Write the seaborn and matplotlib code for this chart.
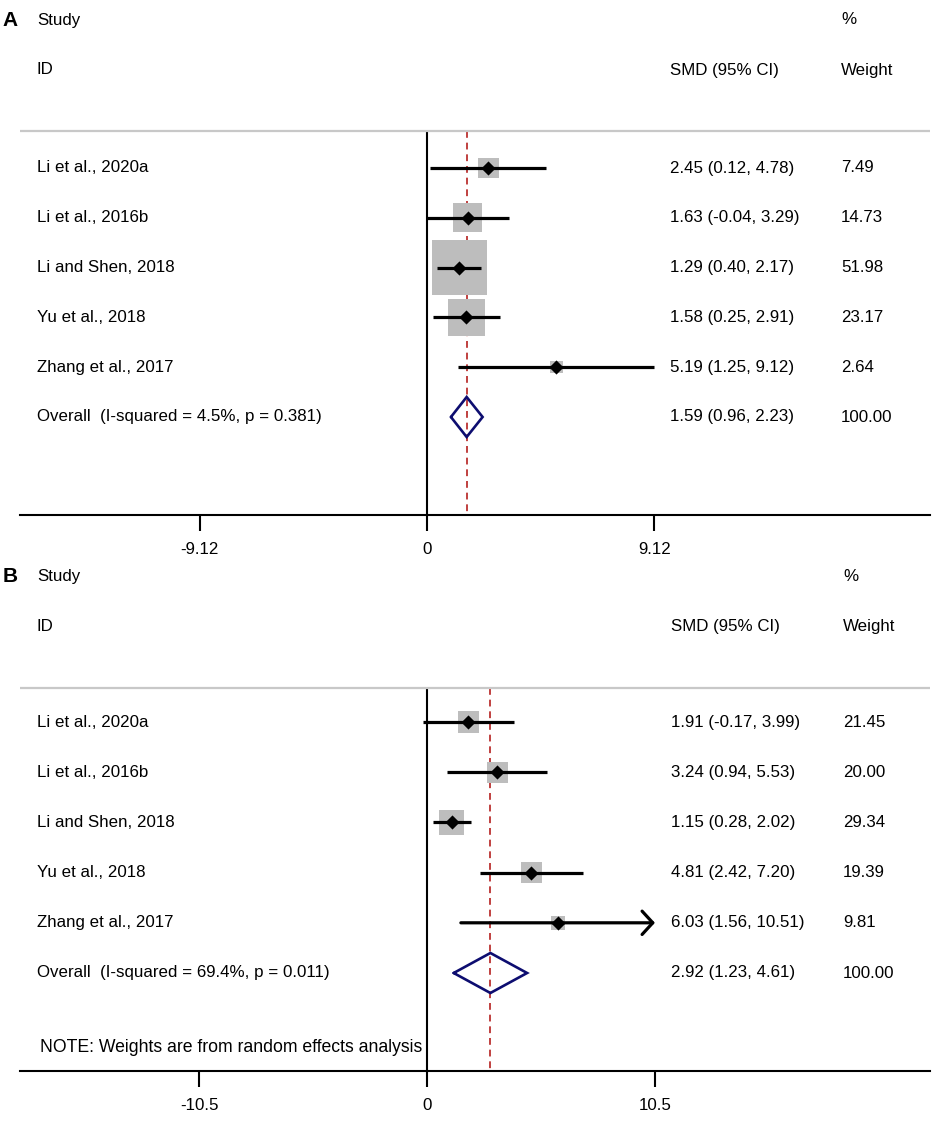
import seaborn as sns
import matplotlib.pyplot as plt

# study labels (same in both panels)
studies = ["Li et al., 2020a", "Li et al., 2016b", "Li and Shen, 2018",
           "Yu et al., 2018", "Zhang et al., 2017"]

# panel A
a_smd = [2.45, 1.63, 1.29, 1.58, 5.19]
a_lo = [0.12, -0.04, 0.40, 0.25, 1.25]
a_hi = [4.78, 3.29, 2.17, 2.91, 9.12]
a_wt = [7.49, 14.73, 51.98, 23.17, 2.64]
a_overall = [1.59, 0.96, 2.23]
a_overall_label = "Overall  (I-squared = 4.5%, p = 0.381)"
a_ticks = [-9.12, 0, 9.12]

# panel B
b_smd = [1.91, 3.24, 1.15, 4.81, 6.03]
b_lo = [-0.17, 0.94, 0.28, 2.42, 1.56]
b_hi = [3.99, 5.53, 2.02, 7.20, 10.51]
b_wt = [21.45, 20.00, 29.34, 19.39, 9.81]
b_overall = [2.92, 1.23, 4.61]
b_overall_label = "Overall  (I-squared = 69.4%, p = 0.011)"
b_ticks = [-10.5, 0, 10.5]
b_note = "NOTE: Weights are from random effects analysis"

overall_weight = 100.00

W, H = 934, 1122
PANEL_H = 561

GRAY_BOX = "#bdbdbd"
NAVY = "#0d0d70"
RED = "#c0403f"

sns.set_theme(style="white")
plt.rcParams["font.family"] = ["Liberation Sans", "DejaVu Sans"]
plt.rcParams["axes.unicode_minus"] = False
plt.rcParams["text.color"] = "black"


def draw_panel(ax, letter, smd, lo, hi, wt, overall, overall_label, ticks, lay, note=None):
    zero_px, ppu = lay["zero_px"], lay["ppu"]
    ax.set_xlim(-zero_px / ppu, (W - zero_px) / ppu)
    ax.set_ylim(PANEL_H, 0)

    def px2x(px):
        return (px - zero_px) / ppu

    rows = [lay["row0"] + i * lay["step"] for i in range(len(smd))]
    y_all = lay["row0"] + len(smd) * lay["step"]
    tx = ax.get_yaxis_transform()  # x in axes fraction, y in data
    fs = 12.2

    # headers
    ax.text(10 / W, lay["h1"], letter, transform=tx, fontsize=15, fontweight="bold",
            ha="center", va="center")
    ax.text(37 / W, lay["h1"], "Study", transform=tx, fontsize=fs, va="center")
    ax.text(37 / W, lay["h2"], "ID", transform=tx, fontsize=fs, va="center")
    ax.text(lay["col_ci"] / W, lay["h2"], "SMD (95% CI)", transform=tx, fontsize=fs, va="center")
    ax.text(lay["col_w"] / W, lay["h1"], "%", transform=tx, fontsize=fs, va="center")
    ax.text(lay["col_w"] / W, lay["h2"], "Weight", transform=tx, fontsize=fs, va="center")

    # separator rule
    ax.plot([20 / W, 930 / W], [lay["rule"], lay["rule"]], transform=tx,
            color="#c8c8c8", lw=1.6, solid_capstyle="butt")

    # zero line and overall dashed line
    ax.vlines(0, lay["rule"], lay["axis"], color="black", lw=1.5, zorder=1)
    ax.vlines(overall[0], lay["rule"], lay["axis"], color=RED, lw=1.4,
              linestyles=(0, (3.5, 2.5)), zorder=1)

    # weight boxes (area proportional to weight)
    wmax = max(wt)
    sns.scatterplot(x=smd, y=rows, size=wt, sizes=(0, lay["box"] * wmax),
                    size_norm=(0, wmax), marker="s", color=GRAY_BOX,
                    linewidth=0, legend=False, ax=ax, zorder=2)

    # confidence intervals
    xmax = max(ticks)
    for s, l, h, y in zip(smd, lo, hi, rows):
        if h > xmax:
            ax.annotate("", xy=(xmax, y), xytext=(l, y),
                        arrowprops=dict(arrowstyle="->, head_length=0.55, head_width=0.6",
                                        lw=2.3, color="black", shrinkA=0, shrinkB=0,
                                        mutation_scale=14), zorder=3)
        else:
            ax.hlines(y, l, h, color="black", lw=2.3, zorder=3)

    sns.scatterplot(x=smd, y=rows, marker="D", s=52, color="black",
                    linewidth=0, legend=False, ax=ax, zorder=4)

    # overall diamond
    est, olo, ohi = overall
    hh = lay["dia"]
    ax.plot([olo, est, ohi, est, olo], [y_all, y_all - hh, y_all, y_all + hh, y_all],
            color=NAVY, lw=1.9, zorder=4, solid_joinstyle="miter")

    # text columns
    for name, s, l, h, w, y in zip(studies, smd, lo, hi, wt, rows):
        ax.text(37 / W, y, name, transform=tx, fontsize=fs, va="center")
        ax.text(lay["col_ci"] / W, y, f"{s:.2f} ({l:.2f}, {h:.2f})", transform=tx,
                fontsize=fs, va="center")
        ax.text(lay["col_w"] / W, y, f"{w:.2f}", transform=tx, fontsize=fs, va="center")
    ax.text(37 / W, y_all, overall_label, transform=tx, fontsize=fs, va="center")
    ax.text(lay["col_ci"] / W, y_all, f"{est:.2f} ({olo:.2f}, {ohi:.2f})", transform=tx,
            fontsize=fs, va="center")
    ax.text(lay["col_w"] / W, y_all, f"{overall_weight:.2f}", transform=tx,
            fontsize=fs, va="center")

    if note:
        ax.text(40 / W, lay["note"], note, transform=tx, fontsize=12.7, va="center")

    # x axis
    for side in ["top", "left", "right"]:
        ax.spines[side].set_visible(False)
    ax.spines["bottom"].set_position(("data", lay["axis"]))
    ax.spines["bottom"].set_bounds(px2x(20), px2x(930))
    ax.spines["bottom"].set_linewidth(1.5)
    ax.spines["bottom"].set_color("black")
    ax.set_xticks(ticks)
    ax.set_xticklabels([f"{t:g}" for t in ticks])
    ax.tick_params(axis="x", direction="out", length=11.5, width=1.5, pad=8,
                   labelsize=fs, bottom=True, colors="black")
    ax.set_yticks([])
    ax.set_xlabel("")
    ax.set_ylabel("")
    ax.grid(False)


fig = plt.figure(figsize=(W / 100, H / 100), dpi=100)
ax_a = fig.add_axes([0, 0.5, 1, 0.5])
ax_b = fig.add_axes([0, 0, 1, 0.5])

lay_a = dict(zero_px=427, ppu=24.94, row0=168, step=49.8, h1=20, h2=70, rule=131,
             axis=515, box=30.0, dia=20, col_ci=670, col_w=841)
lay_b = dict(zero_px=427, ppu=21.71, row0=161, step=50.2, h1=15, h2=65, rule=127,
             axis=510, box=11.0, dia=20, col_ci=671, col_w=843, note=486)

draw_panel(ax_a, "A", a_smd, a_lo, a_hi, a_wt, a_overall, a_overall_label, a_ticks, lay_a)
draw_panel(ax_b, "B", b_smd, b_lo, b_hi, b_wt, b_overall, b_overall_label, b_ticks, lay_b,
           note=b_note)

fig.savefig("out.png", dpi=100)
